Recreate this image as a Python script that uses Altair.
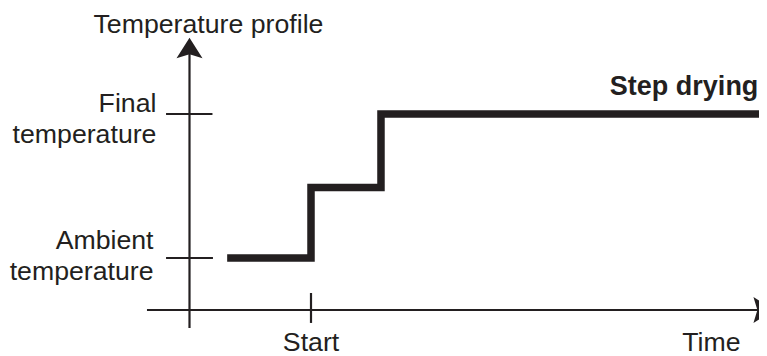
import altair as alt
import pandas as pd

# Step-drying temperature profile (time in units of "Start", temperature normalised: 0 = ambient, 1 = final)
step_time = [0.31, 1.0, 1.576, 4.8]
step_temp = [0.0, 0.49, 1.0, 1.0]

# Axis lines and tick marks (schematic axes)
rule_x1 = [0.0, -0.35, -0.193, -0.193, 1.0]
rule_x2 = [0.0, 4.70, 0.189, 0.193, 1.0]
rule_y1 = [-0.486, -0.361, 1.0, 0.0, -0.243]
rule_y2 = [1.45, -0.361, 1.0, 0.0, -0.451]

# Arrow heads at the end of the axes
arrow_x = [0.0, 4.811]
arrow_y = [1.53, -0.361]
arrow_shape = ["M0,0L1,1.585L0,1.28L-1,1.585Z", "M0,0L-1.585,-1L-1.28,0L-1.585,1Z"]

# Text labels
right_labels = ["Final\ntemperature", "Ambient\ntemperature"]
right_x = [-0.272, -0.296]
right_y = [1.014, 0.0625]

center_labels = ["Temperature profile", "Start", "Time"]
center_x = [0.156, 1.0, 4.296]
center_y = [1.5625, -0.646, -0.646]

bold_labels = ["Step drying"]
bold_x = [4.682]
bold_y = [1.132]

INK = "#231f20"
FONT = "Liberation Sans"

xs = alt.Scale(domain=[0, 1], range=[181.5, 303], nice=False, zero=False)
ys = alt.Scale(domain=[0, 1], range=[250, 106], nice=False, zero=False)

step_df = pd.DataFrame({"t": step_time, "T": step_temp})
rule_df = pd.DataFrame({"x1": rule_x1, "x2": rule_x2, "y1": rule_y1, "y2": rule_y2})
arrow_df = pd.DataFrame({"x": arrow_x, "y": arrow_y, "shape": arrow_shape})
right_df = pd.DataFrame({"x": right_x, "y": right_y, "label": right_labels})
center_df = pd.DataFrame({"x": center_x, "y": center_y, "label": center_labels})
bold_df = pd.DataFrame({"x": bold_x, "y": bold_y, "label": bold_labels})

rules = alt.Chart(rule_df).mark_rule(color=INK, strokeWidth=2.2).encode(
    x=alt.X("x1:Q", scale=xs, axis=None),
    x2="x2:Q",
    y=alt.Y("y1:Q", scale=ys, axis=None),
    y2="y2:Q",
)

arrows = alt.Chart(arrow_df).mark_point(
    filled=True, color=INK, opacity=1, size=676, strokeWidth=0
).encode(
    x=alt.X("x:Q", scale=xs, axis=None),
    y=alt.Y("y:Q", scale=ys, axis=None),
    shape=alt.Shape("shape:N", scale=None, legend=None),
)

step = alt.Chart(step_df).mark_line(
    color=INK, strokeWidth=7.5, interpolate="step-after", strokeCap="butt", strokeJoin="miter"
).encode(
    x=alt.X("t:Q", scale=xs, axis=None),
    y=alt.Y("T:Q", scale=ys, axis=None),
)

right_text = alt.Chart(right_df).mark_text(
    align="right", baseline="alphabetic", font=FONT, fontSize=26.7, color=INK,
    lineBreak="\n", lineHeight=31,
).encode(
    x=alt.X("x:Q", scale=xs, axis=None),
    y=alt.Y("y:Q", scale=ys, axis=None),
    text="label:N",
)

center_text = alt.Chart(center_df).mark_text(
    align="center", baseline="alphabetic", font=FONT, fontSize=26.7, color=INK,
).encode(
    x=alt.X("x:Q", scale=xs, axis=None),
    y=alt.Y("y:Q", scale=ys, axis=None),
    text="label:N",
)

bold_text = alt.Chart(bold_df).mark_text(
    align="right", baseline="alphabetic", font=FONT, fontSize=27, fontWeight="bold", color=INK,
).encode(
    x=alt.X("x:Q", scale=xs, axis=None),
    y=alt.Y("y:Q", scale=ys, axis=None),
    text="label:N",
)

chart = alt.layer(rules, step, arrows, right_text, center_text, bold_text).properties(
    width=751, height=348, padding=0, autosize=alt.AutoSizeParams(type="none"),
    background="white",
).configure_view(stroke=None)

chart.save("out.html", embed_options={"renderer": "svg", "actions": False})
